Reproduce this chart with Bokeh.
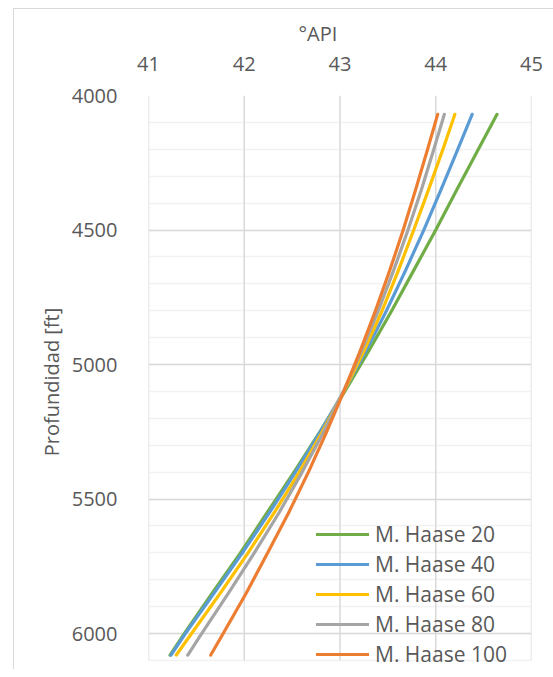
from bokeh.plotting import figure
from bokeh.models import Range1d, FixedTicker, Legend, LegendItem, Title
from bokeh.embed import file_html
from bokeh.resources import INLINE

depth = [4070, 4200, 4350, 4500, 4650, 4800, 4950, 5100, 5250, 5400, 5550, 5700, 5850, 6000, 6080]
haase20 = [44.64, 44.445, 44.22, 44.00, 43.77, 43.54, 43.30, 43.05, 42.79, 42.52, 42.24, 41.96, 41.665, 41.375, 41.225]
haase40 = [44.38, 44.23, 44.055, 43.875, 43.685, 43.485, 43.27, 43.04, 42.795, 42.535, 42.265, 41.98, 41.685, 41.385, 41.235]
haase60 = [44.20, 44.075, 43.925, 43.77, 43.61, 43.44, 43.25, 43.04, 42.815, 42.575, 42.315, 42.04, 41.75, 41.45, 41.29]
haase80 = [44.09, 43.98, 43.85, 43.71, 43.56, 43.40, 43.225, 43.035, 42.83, 42.605, 42.365, 42.105, 41.835, 41.555, 41.41]
haase100 = [44.02, 43.915, 43.79, 43.66, 43.52, 43.37, 43.21, 43.04, 42.86, 42.67, 42.465, 42.245, 42.02, 41.78, 41.65]

series_names = ["M. Haase 20", "M. Haase 40", "M. Haase 60", "M. Haase 80", "M. Haase 100"]
series_vals = [haase20, haase40, haase60, haase80, haase100]
colors = ["#70AD47", "#5B9BD5", "#FFC000", "#A5A5A5", "#ED7D31"]

x_ticks = [41, 42, 43, 44, 45]
y_ticks = [4000, 4500, 5000, 5500, 6000]
y_minor = list(range(4000, 6101, 100))
y_grid_end = 6100

FONT = "Open Sans"
TXT = "#595959"

p = figure(width=540, height=661, output_backend="svg", toolbar_location=None,
           x_range=Range1d(41, 45), y_range=Range1d(6130, 4000),
           x_axis_location="above", min_border_left=134, min_border_right=23,
           min_border_top=86, min_border_bottom=2,
           margin=(8, 0, 0, 13),
           styles={"border-left": "1px solid #D9D9D9", "border-top": "1px solid #D9D9D9",
                   "border-right": "0px none", "border-bottom": "0px none"})
p.outline_line_color = None
p.background_fill_color = "white"
p.border_fill_color = "white"

# vertical gridlines, ending at the last minor line
p.segment(x0=x_ticks, y0=[4000] * len(x_ticks), x1=x_ticks, y1=[y_grid_end] * len(x_ticks),
          line_color="#D9D9D9", line_width=1.5)

renderers = []
for name, vals, c in zip(series_names, series_vals, colors):
    r = p.line(vals, depth, line_color=c, line_width=3.2, line_cap="round", line_join="round")
    renderers.append((name, r))

p.xaxis.ticker = FixedTicker(ticks=x_ticks)
p.yaxis.ticker = FixedTicker(ticks=y_ticks, minor_ticks=y_minor)
p.yaxis.axis_label = "Profundidad [ft]"
for ax in (p.xaxis[0], p.yaxis[0]):
    ax.axis_line_color = None
    ax.major_tick_line_color = None
    ax.minor_tick_line_color = None
    ax.major_tick_out = 0
    ax.major_tick_in = 0
    ax.minor_tick_out = 0
    ax.minor_tick_in = 0
    ax.major_label_text_font = FONT
    ax.major_label_text_font_size = "20px"
    ax.major_label_text_color = TXT
    ax.axis_label_text_font = FONT
    ax.axis_label_text_font_size = "20px"
    ax.axis_label_text_font_style = "normal"
    ax.axis_label_text_color = TXT
p.xaxis.major_label_standoff = 25
p.yaxis.major_label_standoff = 31
p.yaxis.axis_label_standoff = 4

x_title = Title(text="°API", align="left", offset=150, standoff=14,
                text_font=FONT, text_font_size="20px", text_font_style="normal",
                text_color=TXT)
p.add_layout(x_title, "above")

p.xgrid.visible = False
p.ygrid.grid_line_color = "#D9D9D9"
p.ygrid.grid_line_width = 1.5
p.ygrid.minor_grid_line_color = "#F2F2F2"
p.ygrid.minor_grid_line_width = 1.5

legend = Legend(items=[LegendItem(label=n, renderers=[r]) for n, r in renderers],
                location=(168, 0))
legend.background_fill_alpha = 0
legend.border_line_color = None
legend.label_text_font = FONT
legend.label_text_font_size = "21px"
legend.label_text_color = TXT
legend.glyph_width = 53
legend.glyph_height = 20
legend.label_standoff = 6
legend.spacing = 2
legend.padding = 0
legend.margin = 0
p.add_layout(legend, "center")

open("out.html", "w").write(file_html(p, INLINE))
